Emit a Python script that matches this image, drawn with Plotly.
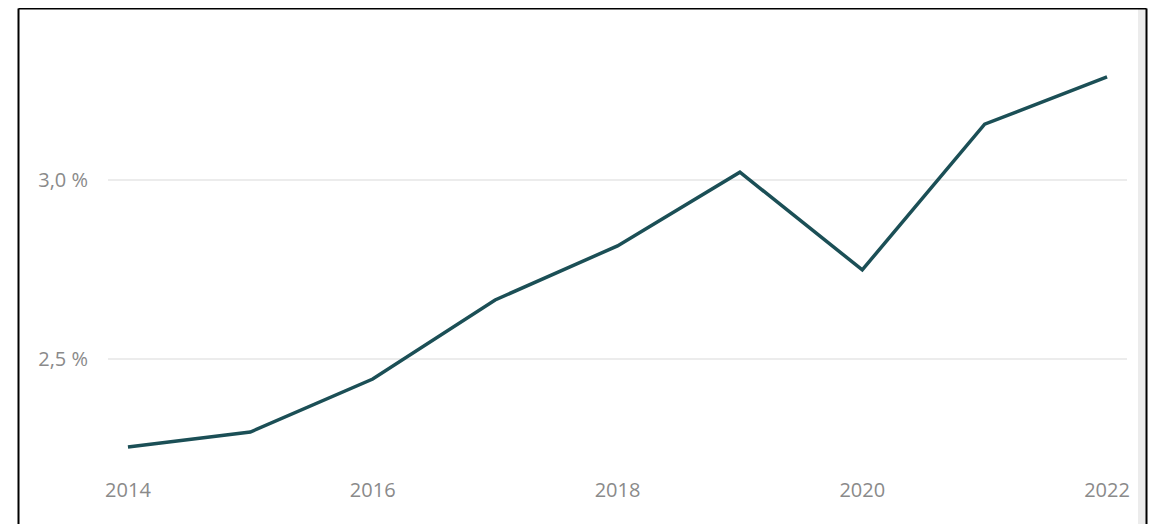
import plotly.graph_objects as go

years = [2014, 2015, 2016, 2017, 2018, 2019, 2020, 2021, 2022]
values = [2.254, 2.296, 2.444, 2.665, 2.816, 3.022, 2.749, 3.156, 3.288]
y_tickvals = [2.5, 3.0]
y_ticktext = ["2,5 %", "3,0 %"]
x_tickvals = [2014, 2016, 2018, 2020, 2022]

OFF = 8  # page body offset
W, H = 1140, 516
L, R, T, B = 100, 21, 12, 54
pw, ph = W - L - R, H - T - B

def px(x):
    return (x - OFF - L) / pw

def py(y):
    return 1 - (y - OFF - T) / ph

fig = go.Figure()
fig.add_trace(go.Scatter(
    x=years, y=values, mode="lines",
    line=dict(color="#1b4f56", width=3.5),
    hoverinfo="skip",
))

frame = dict(color="black", width=2)
fig.update_layout(
    width=W, height=H,
    margin=dict(l=L, r=R, t=T, b=B),
    paper_bgcolor="white", plot_bgcolor="white",
    showlegend=False,
    font=dict(family="Open Sans", size=20, color="#8a8a8a"),
    xaxis=dict(
        range=[2013.837, 2022.163],
        tickvals=x_tickvals,
        showgrid=False, zeroline=False, showline=False,
        ticks="", ticklen=0, ticklabelstandoff=6,
        tickfont=dict(size=20, color="#8a8a8a"),
    ),
    yaxis=dict(
        range=[2.19, 3.447],
        tickvals=y_tickvals, ticktext=y_ticktext,
        showgrid=True, gridcolor="#ececec", gridwidth=1.5,
        zeroline=False, showline=False,
        ticks="", ticklen=0, ticklabelstandoff=19,
        tickfont=dict(size=20, color="#8a8a8a"),
    ),
    shapes=[
        dict(type="rect", xref="paper", yref="paper",
             x0=px(1138), x1=px(1146), y0=py(530), y1=py(9),
             fillcolor="#ececec", line=dict(width=0), layer="below"),
        dict(type="line", xref="paper", yref="paper",
             x0=px(18.5), x1=px(18.5), y0=py(530), y1=py(8.5), line=frame),
        dict(type="line", xref="paper", yref="paper",
             x0=px(1146.5), x1=px(1146.5), y0=py(530), y1=py(8.5), line=frame),
        dict(type="line", xref="paper", yref="paper",
             x0=px(18.5), x1=px(1146.5), y0=py(8.5), y1=py(8.5), line=frame),
    ],
)

fig.write_html("out.html")
